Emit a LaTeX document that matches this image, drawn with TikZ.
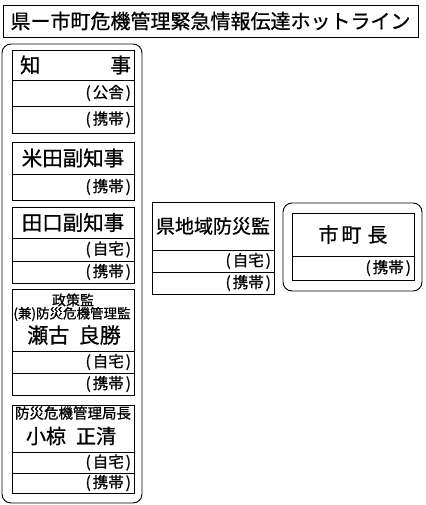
\documentclass[tikz,border=0pt]{standalone}
\usepackage{fontspec}
\setmainfont{Noto Sans CJK JP}[FakeBold=0.8]
\begin{document}
\begin{tikzpicture}[x=1pt,y=-1pt,
  frame/.style={draw, line width=0.9pt, anchor=north west, inner sep=0pt, outer sep=0pt},
  group/.style={frame, rounded corners=9pt},
  cell/.style={frame, inner xsep=3pt, text width=116pt},
  hdr/.style={cell, align=center, font=\fontsize{20.5}{22}\selectfont},
  row/.style={cell, align=right, font=\fontsize{15.5}{16}\selectfont}
]
\useasboundingbox (0,0) rectangle (425,505);
\newcommand{\pr}[1]{(\kern2pt #1\kern2pt)}

% title
\node[frame, minimum width=415pt, minimum height=32pt, font=\fontsize{20}{24}\selectfont] (title) at (3,5) {県ー市町危機管理緊急情報伝達ホットライン};

% left group
\node[group, minimum width=140pt, minimum height=459pt] (leftgrp) at (2,44) {};

% 知事
\node[hdr, minimum height=30pt] (chiji) at (12,50) {\hspace*{5pt}知\hfill 事\hspace*{3pt}};
\node[row, minimum height=26pt] (chiji1) at (12,80) {\pr{公舎}};
\node[row, minimum height=27pt] (chiji2) at (12,106) {\pr{携帯}};

% 米田副知事
\node[hdr, minimum height=32pt] (yoneda) at (12,142) {米田副知事};
\node[row, minimum height=26pt] (yoneda1) at (12,174) {\pr{携帯}};

% 田口副知事
\node[hdr, minimum height=31pt] (taguchi) at (12,207) {田口副知事};
\node[row, minimum height=23pt] (taguchi1) at (12,238) {\pr{自宅}};
\node[row, minimum height=22pt] (taguchi2) at (12,261) {\pr{携帯}};

% 政策監
\node[cell, minimum height=62pt] (seko) at (12,289) {};
\node[font=\fontsize{14}{15}\selectfont, inner sep=0pt] (seko-a) at (73,300) {政策監};
\node[font=\fontsize{13.5}{15}\selectfont, inner sep=0pt] (seko-b) at (72,314) {(兼)防災危機管理監};
\node[font=\fontsize{21}{23}\selectfont, inner sep=0pt] (seko-c) at (74,335) {瀬古\hspace{0.45em}良勝};
\node[row, minimum height=22pt] (seko1) at (12,351) {\pr{自宅}};
\node[row, minimum height=22pt] (seko2) at (12,373) {\pr{携帯}};

% 防災危機管理局長
\node[cell, minimum height=47pt] (ogura) at (12,405) {};
\node[font=\fontsize{14.5}{16}\selectfont, inner sep=0pt] (ogura-a) at (73,413) {防災危機管理局長};
\node[font=\fontsize{20}{22}\selectfont, inner sep=0pt] (ogura-b) at (71,436) {小椋\hspace{0.5em}正清};
\node[row, minimum height=21pt] (ogura1) at (12,452) {\pr{自宅}};
\node[row, minimum height=20pt] (ogura2) at (12,473) {\pr{携帯}};

% 県地域防災監
\node[hdr, minimum height=48pt, font=\fontsize{19}{21}\selectfont] (chiiki) at (152,202) {県地域防災監};
\node[row, minimum height=22pt] (chiiki1) at (152,250) {\pr{自宅}};
\node[row, minimum height=22pt] (chiiki2) at (152,272) {\pr{携帯}};

% 市町長
\node[group, minimum width=139pt, minimum height=88pt] (rightgrp) at (283,203) {};
\node[hdr, minimum height=43pt, font=\fontsize{20}{22}\selectfont] (shicho) at (292,213) {市\kern3pt 町\kern6pt 長};
\node[row, minimum height=24pt] (shicho1) at (292,256) {\pr{携帯}};
\end{tikzpicture}
\end{document}
